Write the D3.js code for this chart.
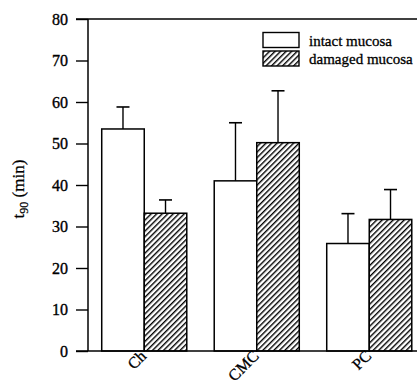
<!DOCTYPE html>
<html><head><meta charset="utf-8">
<script src="https://cdn.jsdelivr.net/npm/d3@7"></script>
<style>body{margin:0;background:#fff}svg{display:block}</style>
</head><body>
<svg id="c" width="417" height="386"></svg>
<script>
const categories = ["Ch", "CMC", "PC"];
const series = ["intact mucosa", "damaged mucosa"];
const intact = [53.5, 41.0, 25.9];
const intactErr = [5.3, 14.0, 7.2];
const damaged = [33.2, 50.2, 31.7];
const damagedErr = [3.2, 12.5, 7.2];
const yTicks = [0, 10, 20, 30, 40, 50, 60, 70, 80];

const svg = d3.select("#c");
const font = "'Liberation Serif', 'Times New Roman', serif";
const y = d3.scaleLinear().domain([0, 80]).range([351, 19]);
const x = d3.scaleBand().domain(categories).range([88, 425.5]).paddingInner(0.244).paddingOuter(0.122);
const xs = d3.scaleBand().domain(series).range([0, x.bandwidth()]);

const defs = svg.append("defs");
const pat = defs.append("pattern").attr("id", "hatch").attr("patternUnits", "userSpaceOnUse")
  .attr("width", 3.9).attr("height", 3.9).attr("patternTransform", "rotate(45)");
pat.append("rect").attr("width", 3.9).attr("height", 3.9).attr("fill", "#fff");
pat.append("line").attr("x1", 0.7).attr("y1", 0).attr("x2", 0.7).attr("y2", 3.9)
  .attr("stroke", "#000").attr("stroke-width", 1.4);

const data = [];
categories.forEach((c, i) => {
  data.push({c, s: series[0], v: intact[i], e: intactErr[i]});
  data.push({c, s: series[1], v: damaged[i], e: damagedErr[i]});
});

const g = svg.append("g");
g.selectAll(".err").data(data).join("g").each(function(d) {
  const cx = x(d.c) + xs(d.s) + xs.bandwidth() / 2;
  const s = d3.select(this);
  s.append("line").attr("x1", cx).attr("x2", cx).attr("y1", y(d.v)).attr("y2", y(d.v + d.e))
    .attr("stroke", "#000").attr("stroke-width", 1.4);
  s.append("line").attr("x1", cx - 6.5).attr("x2", cx + 6.5).attr("y1", y(d.v + d.e)).attr("y2", y(d.v + d.e))
    .attr("stroke", "#000").attr("stroke-width", 1.6);
});
g.selectAll(".bar").data(data).join("rect")
  .attr("x", d => x(d.c) + xs(d.s))
  .attr("y", d => y(d.v))
  .attr("width", xs.bandwidth())
  .attr("height", d => y(0) - y(d.v))
  .attr("fill", d => d.s === series[0] ? "#fff" : "url(#hatch)")
  .attr("stroke", "#000").attr("stroke-width", 1.5);

svg.append("line").attr("x1", 76).attr("x2", 417).attr("y1", y(80)).attr("y2", y(80)).attr("stroke", "#000").attr("stroke-width", 1.5);
svg.append("line").attr("x1", 76).attr("x2", 417).attr("y1", y(0)).attr("y2", y(0)).attr("stroke", "#000").attr("stroke-width", 1.7);

const yAxis = d3.axisLeft(y).tickValues(yTicks).tickSize(12).tickPadding(8).tickFormat(d3.format("d"));
const ya = svg.append("g").attr("transform", "translate(88,0)").call(yAxis);
ya.select(".domain").attr("stroke", "#000").attr("stroke-width", 1.5).attr("d", `M0,${y(80)}V${y(0)}`);
ya.selectAll(".tick line").attr("stroke", "#000").attr("stroke-width", 1.4);
ya.selectAll(".tick text").attr("font-family", font).attr("font-size", 16).attr("fill", "#000")
  .attr("stroke", "#000").attr("stroke-width", 0.35).attr("dy", "0.34em");

svg.selectAll(".xl").data(categories).join("text")
  .attr("transform", d => `translate(${x(d) + x.bandwidth() / 2 + 3},${357}) rotate(-45)`)
  .attr("text-anchor", "end").attr("font-family", font).attr("font-size", 16).attr("fill", "#000")
  .attr("stroke", "#000").attr("stroke-width", 0.3)
  .text(d => d);

const yl = svg.append("text").attr("transform", "translate(24,189) rotate(-90)")
  .attr("text-anchor", "middle").attr("font-family", font).attr("font-size", 17).attr("fill", "#000")
  .attr("stroke", "#000").attr("stroke-width", 0.25);
yl.append("tspan").text("t");
yl.append("tspan").attr("font-size", 12).attr("dy", 4).text("90");
yl.append("tspan").attr("dy", -4).text(" (min)");

const lg = svg.append("g");
series.forEach((s, i) => {
  lg.append("rect").attr("x", 263).attr("y", 32.5 + i * 18.5).attr("width", 36).attr("height", 15)
    .attr("fill", i === 0 ? "#fff" : "url(#hatch)").attr("stroke", "#000").attr("stroke-width", 1.4);
  lg.append("text").attr("x", 309).attr("y", 45.5 + i * 18.5).attr("font-family", font).attr("font-size", 15)
    .attr("fill", "#000").attr("stroke", "#000").attr("stroke-width", 0.3).text(s);
});
</script>
</body></html>
